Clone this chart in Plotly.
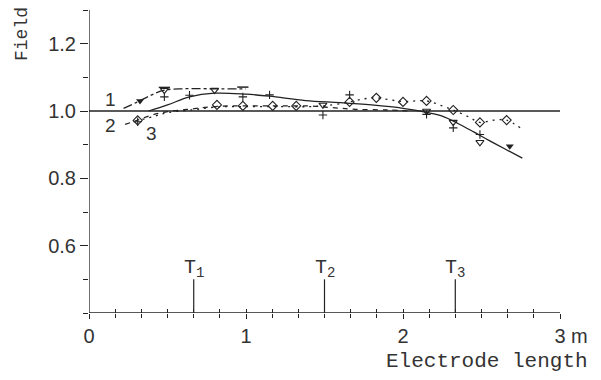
import plotly.graph_objects as go

# ---- data ----
x_solid = [0.38, 0.50, 0.64, 0.80, 1.00, 1.15, 1.38, 1.60, 1.80, 2.00, 2.15, 2.25, 2.35, 2.45, 2.55, 2.65, 2.76]
y_solid = [1.000, 1.018, 1.042, 1.053, 1.050, 1.044, 1.031, 1.025, 1.018, 1.008, 0.996, 0.985, 0.963, 0.938, 0.912, 0.887, 0.860]

x_c1 = [0.22, 0.30, 0.40, 0.48, 0.60, 0.80, 1.00]
y_c1 = [1.008, 1.025, 1.048, 1.062, 1.066, 1.066, 1.066]

x_c2 = [0.23, 0.31, 0.40, 0.50, 0.65, 0.82, 1.00, 1.20, 1.40, 1.55, 1.70, 1.90, 2.05]
y_c2 = [0.960, 0.973, 0.988, 0.998, 1.006, 1.014, 1.015, 1.015, 1.015, 1.010, 1.005, 1.003, 1.000]

x_c3 = [0.34, 0.42, 0.50, 0.65, 0.82, 1.00, 1.20, 1.40, 1.55, 1.66, 1.75, 1.83, 1.92, 2.00, 2.15, 2.25, 2.32, 2.42, 2.49, 2.58, 2.66, 2.76]
y_c3 = [0.975, 0.985, 0.995, 1.003, 1.012, 1.013, 1.013, 1.013, 1.018, 1.027, 1.036, 1.039, 1.033, 1.028, 1.030, 1.015, 1.003, 0.982, 0.966, 0.973, 0.973, 0.945]

x_tri = [0.48, 0.80, 1.49, 2.15, 2.32, 2.49]
y_tri = [1.062, 1.062, 1.018, 1.000, 0.967, 0.907]
x_tri_f = [0.325, 2.68]
y_tri_f = [1.030, 0.895]
x_plus = [0.31, 0.48, 0.64, 0.98, 1.15, 1.49, 1.66, 2.15, 2.32, 2.49]
y_plus = [0.968, 1.042, 1.047, 1.042, 1.048, 0.988, 1.048, 0.990, 0.950, 0.930]
x_dia = [0.31, 0.815, 0.98, 1.17, 1.32, 1.66, 1.83, 2.00, 2.15, 2.32, 2.49, 2.66]
y_dia = [0.972, 1.018, 1.015, 1.015, 1.015, 1.027, 1.039, 1.027, 1.030, 1.003, 0.966, 0.973]
x_dash = [0.48, 0.98]
y_dash = [1.070, 1.071]

t_pos = [0.667, 1.5, 2.333]
t_labels = ["T<sub>1</sub>", "T<sub>2</sub>", "T<sub>3</sub>"]

x_tickvals = [0, 1, 2, 3]
x_ticktext = ["0", "1", "2", "3"]
y_tickvals = [0.6, 0.8, 1.0, 1.2]
y_ticktext = ["0.6", "0.8", "1.0", "1.2"]

curve_labels = [("1", 0.134, 1.035), ("2", 0.134, 0.958), ("3", 0.40, 0.934)]

INK = "#222222"
TXT = "#333333"
LW = 1.3

fig = go.Figure()
fig.add_trace(go.Scatter(x=x_solid, y=y_solid, mode="lines", line=dict(color=INK, width=LW, shape="spline"), hoverinfo="skip"))
fig.add_trace(go.Scatter(x=x_c1, y=y_c1, mode="lines", line=dict(color=INK, width=LW, dash="dashdot", shape="spline"), hoverinfo="skip"))
fig.add_trace(go.Scatter(x=x_c2, y=y_c2, mode="lines", line=dict(color=INK, width=LW, dash="5px,5px", shape="spline"), hoverinfo="skip"))
fig.add_trace(go.Scatter(x=x_c3, y=y_c3, mode="lines", line=dict(color=INK, width=LW, dash="2px,5px", shape="spline"), hoverinfo="skip"))

fig.add_trace(go.Scatter(x=x_tri, y=y_tri, mode="markers", marker=dict(symbol="triangle-down-open", size=7, color=INK, line=dict(width=1.1))))
fig.add_trace(go.Scatter(x=x_tri_f, y=y_tri_f, mode="markers", marker=dict(symbol="triangle-down", size=7, color=INK)))
fig.add_trace(go.Scatter(x=x_plus, y=y_plus, mode="markers", marker=dict(symbol="cross-thin-open", size=6, color=INK, line=dict(width=1.1, color=INK))))
fig.add_trace(go.Scatter(x=x_dia, y=y_dia, mode="markers", marker=dict(symbol="diamond-open", size=7, color=INK, line=dict(width=1.1))))
fig.add_trace(go.Scatter(x=x_dash, y=y_dash, mode="markers", marker=dict(symbol="line-ew-open", size=8, color=INK, line=dict(width=1.5, color=INK))))

# invisible trace on overlay axis for inside tick halves
fig.add_trace(go.Scatter(x=[0, 3], y=[0.4, 0.4], xaxis="x2", mode="markers", marker=dict(opacity=0), hoverinfo="skip"))

shapes = []
shapes.append(dict(type="line", xref="x", yref="y", x0=-0.035, x1=3.0, y0=0.4, y1=0.4, line=dict(color=INK, width=1.3)))
shapes.append(dict(type="line", xref="x", yref="y", x0=0, x1=0, y0=0.38, y1=1.3, line=dict(color=INK, width=1.3)))
shapes.append(dict(type="line", xref="x", yref="y", x0=-0.05, x1=3.0, y0=1.0, y1=1.0, line=dict(color=INK, width=1.3)))
for t in t_pos:
    shapes.append(dict(type="line", xref="x", yref="y", x0=t, x1=t, y0=0.4, y1=0.5, line=dict(color=INK, width=1.2)))

W, H = 601, 380
ML, MR, MT, MB = 89, 41, 10, 67
pw, ph = W - ML - MR, H - MT - MB

annotations = []
for t, lab in zip(t_pos, t_labels):
    annotations.append(dict(x=t, y=0.49, xref="x", yref="y", text=lab, showarrow=False,
                            xanchor="left", yanchor="bottom", xshift=-12,
                            font=dict(family="Liberation Mono", size=20, color=TXT)))
for txt, cx, cy in curve_labels:
    annotations.append(dict(x=cx, y=cy, xref="x", yref="y", text=txt, showarrow=False,
                            font=dict(family="Liberation Sans", size=19, color=TXT)))
annotations.append(dict(x=3.0, y=0.4, xref="x", yref="y", text="m", showarrow=False,
                        xanchor="left", yanchor="top", xshift=9, yshift=-10,
                        font=dict(family="Liberation Sans", size=20, color=TXT)))
annotations.append(dict(xref="paper", yref="paper", x=(590 - ML) / pw, y=(H - MB - 361) / ph,
                        xanchor="right", yanchor="middle", text="Electrode length", showarrow=False,
                        font=dict(family="Liberation Mono", size=21, color=TXT)))
annotations.append(dict(xref="paper", yref="paper", x=(22 - ML) / pw, y=(H - MB - 34) / ph,
                        xanchor="center", yanchor="middle", text="Field", showarrow=False, textangle=-90,
                        font=dict(family="Liberation Mono", size=18, color=TXT)))

fig.update_layout(
    width=W, height=H,
    margin=dict(l=ML, r=MR, t=MT, b=MB),
    paper_bgcolor="white", plot_bgcolor="white",
    showlegend=False,
    shapes=shapes, annotations=annotations,
    xaxis=dict(range=[0, 3], showgrid=False, zeroline=False, showline=False,
               tickmode="array", tickvals=x_tickvals, ticktext=x_ticktext,
               ticks="outside", ticklen=5, tickwidth=1, tickcolor=INK,
               minor=dict(tick0=0, dtick=1 / 6, ticks="outside", ticklen=4, tickcolor=INK, tickwidth=1),
               tickfont=dict(family="Liberation Sans", size=20, color=TXT)),
    xaxis2=dict(range=[0, 3], overlaying="x", anchor="y", side="bottom", showgrid=False, zeroline=False,
                showline=False, tickmode="linear", tick0=0, dtick=1 / 6, showticklabels=False,
                ticks="inside", ticklen=4, tickwidth=1, tickcolor=INK),
    yaxis=dict(range=[0.4, 1.3], showgrid=False, zeroline=False, showline=False,
               tickmode="array", tickvals=y_tickvals, ticktext=y_ticktext,
               ticks="outside", ticklen=8, tickwidth=1, tickcolor=INK,
               minor=dict(tick0=0.4, dtick=0.1, ticks="outside", ticklen=5, tickcolor=INK, tickwidth=1),
               tickfont=dict(family="Liberation Sans", size=20, color=TXT)),
)

fig.write_html("out.html", config={"displayModeBar": False},
               post_script="document.body.style.margin='0';")
